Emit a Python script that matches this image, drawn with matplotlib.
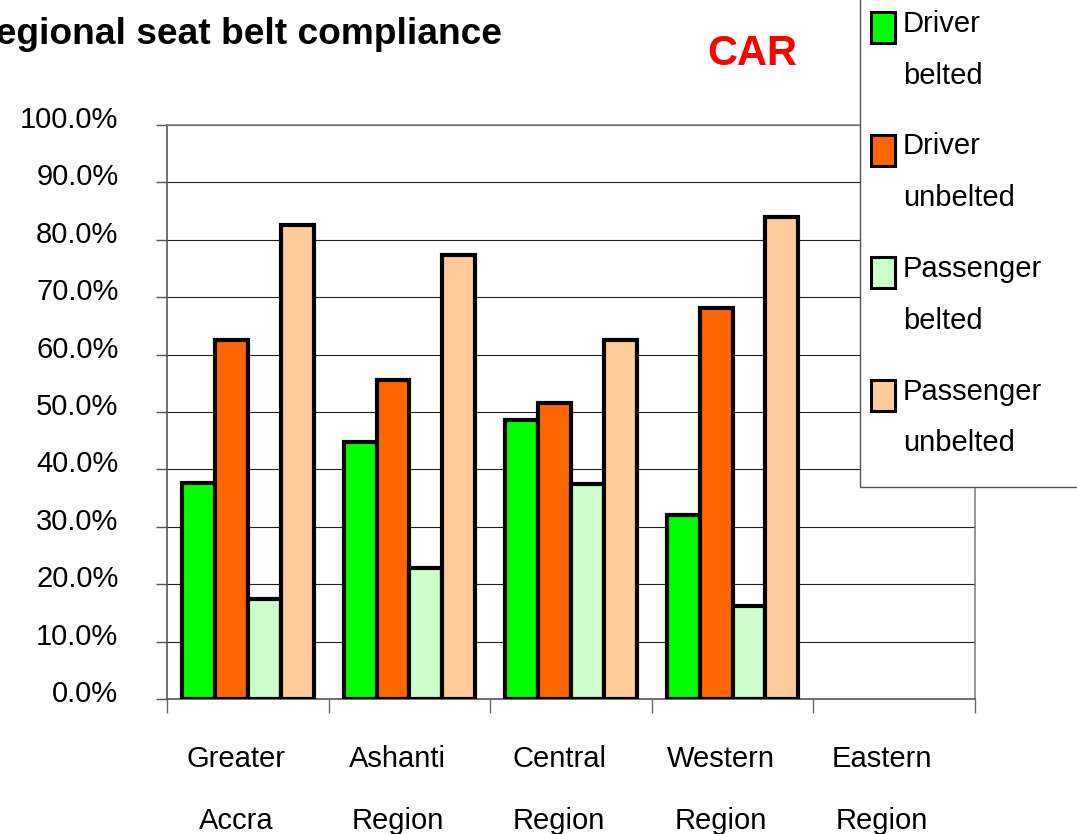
import numpy as np
import matplotlib
matplotlib.use('Agg')
import matplotlib.pyplot as plt
import matplotlib.transforms as mtrans
from matplotlib.patches import Rectangle

plt.rcParams['font.family'] = ['Liberation Sans', 'DejaVu Sans']

# data (percent)
regionen = ['Greater\nAccra', 'Ashanti\nRegion', 'Central\nRegion', 'Western\nRegion', 'Eastern\nRegion']
driverBelted = [37.6, 44.7, 48.6, 32.1, np.nan]
driverUnbelted = [62.5, 55.6, 51.6, 68.1, np.nan]
passBelted = [17.4, 22.8, 37.5, 16.2, np.nan]
passUnbelted = [82.6, 77.4, 62.5, 84.0, np.nan]

serien = [driverBelted, driverUnbelted, passBelted, passUnbelted]
namen = [['Driver', 'belted'], ['Driver', 'unbelted'], ['Passenger', 'belted'], ['Passenger', 'unbelted']]
farben = ['#00FF00', '#FF6600', '#CCFFCC', '#FFCC99']

W, H = 1077, 834
fig = plt.figure(figsize=(W/100, H/100), dpi=100)
ax = fig.add_axes([167/W, 1-699/H, 808/W, 574/H])

x = np.arange(len(regionen))
breite = 0.2035
for j in range(4):
    ax.bar(x + (j-1.5)*breite, serien[j], breite, color=farben[j],
           edgecolor='black', linewidth=3, zorder=3)

ax.set_xlim(-0.5, len(regionen)-0.5)
ax.set_ylim(0, 100)

# gitter + achsen
ax.set_yticks(np.arange(0, 101, 10))
ax.set_yticklabels(['%.1f%%' % v for v in np.arange(0, 101, 10)])
ax.yaxis.grid(True, color='#222222', linewidth=0.8, zorder=0)
ax.tick_params(axis='y', direction='out', length=8, width=1, color='#555555',
               pad=27, labelsize=21)
off = mtrans.ScaledTranslation(0, 8/100, fig.dpi_scale_trans)
for lab in ax.get_yticklabels():
    lab.set_transform(lab.get_transform() + off)

ax.set_xticks(np.arange(-0.5, len(regionen), 1.0))
ax.set_xticklabels([])
ax.set_xticks(x, minor=True)
ax.set_xticklabels(regionen, minor=True)
ax.tick_params(axis='x', which='major', direction='out', length=10, width=1, color='#666666')
ax.tick_params(axis='x', which='minor', length=0, pad=33, labelsize=21)
offx = mtrans.ScaledTranslation(-12/100, 0, fig.dpi_scale_trans)
for lab in ax.get_xticklabels(minor=True):
    lab.set_linespacing(2.55)
    lab.set_transform(lab.get_transform() + offx)

ax.spines['left'].set_color('#555555')
ax.spines['bottom'].set_color('#555555')
ax.spines['top'].set_color('#808080')
ax.spines['right'].set_color('#808080')
for s in ax.spines.values():
    s.set_linewidth(1.2)

# titel (links abgeschnitten wie im Original)
fig.text(502/W, 1-44/H, 'Regional seat belt compliance', ha='right', va='baseline',
         fontsize=26.7, fontweight='bold')
fig.text(752/W, 1-65/H, 'CAR', ha='center', va='baseline',
         fontsize=30, fontweight='bold', color='#FF0000')

# legende (rechts oben, teilweise abgeschnitten)
fig.add_artist(Rectangle((860/W, 1-487/H), 0.3, 0.7, transform=fig.transFigure,
                         facecolor='white', edgecolor='#555555', linewidth=1, zorder=5))
for i in range(4):
    oben = 12 + 122.5*i
    fig.add_artist(Rectangle((871/W, 1-(oben+31)/H), 24/W, 31/H, transform=fig.transFigure,
                             facecolor=farben[i], edgecolor='black', linewidth=2.2, zorder=6))
    fig.text(903/W, 1-(32+122.5*i)/H, namen[i][0], ha='left', va='baseline',
             fontsize=21, zorder=7)
    fig.text(903/W, 1-(84+122.5*i)/H, namen[i][1], ha='left', va='baseline',
             fontsize=21, zorder=7)

fig.savefig('out.png', dpi=100)
